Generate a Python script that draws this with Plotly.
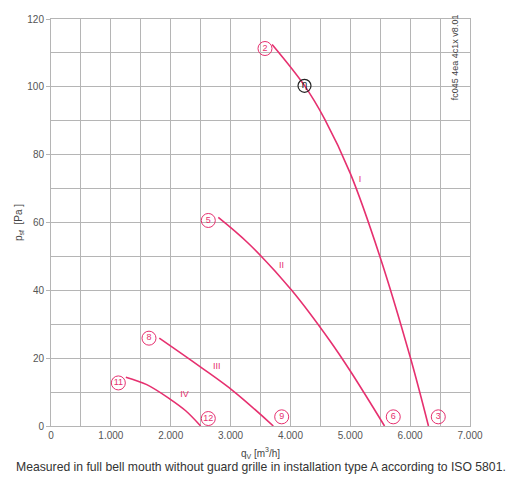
import plotly.graph_objects as go

# fan curves (qv in m3/h, psf in Pa)
q_I = [3694, 4230, 4572, 5000, 5489, 6000, 6306]
p_I = [112.5, 100.5, 90.5, 74.5, 50.3, 20.4, 0]

q_II = [2795, 3300, 4021, 4656, 5000, 5572]
p_II = [61.5, 53.8, 40, 25.2, 16.2, 0]

q_III = [1809, 2489, 3046, 3714]
p_III = [25.9, 17.5, 10.3, 0]

q_IV = [1250, 1600, 2000, 2250, 2500]
p_IV = [14.4, 12.2, 7.8, 4.5, 0]

# numbered operating points
pt_labels = ["2", "5", "8", "11", "3", "6", "9", "12"]
pt_q = [3575, 2628, 1637, 1125, 6470, 5718, 3854, 2628]
pt_p = [111.3, 60.6, 25.9, 12.7, 2.7, 2.7, 2.7, 2.2]

# curve names
curve_names = ["I", "II", "III", "IV"]
name_q = [5162, 3853, 2768, 2230]
name_p = [72.6, 47.2, 17.5, 9.3]

eta_q, eta_p = 4235, 100.3

x_ticks = [0, 1000, 2000, 3000, 4000, 5000, 6000, 7000]
x_labels = ["0", "1.000", "2.000", "3.000", "4.000", "5.000", "6.000", "7.000"]

pink = "#e6306f"
grid = "#b5b5b5"

fig = go.Figure()
for q, p in [(q_I, p_I), (q_II, p_II), (q_III, p_III), (q_IV, p_IV)]:
    fig.add_trace(go.Scatter(x=q, y=p, mode="lines", line=dict(color=pink, width=1.6, shape="spline"),
                             hoverinfo="skip"))

fig.add_trace(go.Scatter(x=pt_q, y=pt_p, mode="markers+text", text=pt_labels,
                         textposition="middle center", textfont=dict(color=pink, size=9),
                         marker=dict(symbol="circle-open", size=14, color=pink, line=dict(width=1))))
fig.add_trace(go.Scatter(x=[eta_q], y=[eta_p], mode="markers+text", text=["η"],
                         textposition="middle center", textfont=dict(color="#222", size=10),
                         marker=dict(symbol="circle-open", size=13, color="#222", line=dict(width=1.2))))
fig.add_trace(go.Scatter(x=name_q, y=name_p, mode="text", text=curve_names,
                         textfont=dict(color=pink, size=9, family="Arial")))

# the page body adds an 8px offset, so the figure is a bit smaller than the window
fig.update_layout(
    width=519, height=488, showlegend=False,
    plot_bgcolor="white", paper_bgcolor="white",
    margin=dict(l=43, r=57, t=5, b=70),
    font=dict(family="Arial", color="#555", size=10),
    xaxis=dict(range=[0, 7000], tickvals=x_ticks, ticktext=x_labels,
               showgrid=True, gridcolor=grid, gridwidth=1,
               minor=dict(dtick=500, showgrid=True, gridcolor=grid, gridwidth=1),
               showline=True, linecolor=grid, mirror=True, zeroline=False,
               ticks="", tickfont=dict(size=10, color="#555"),
               title=dict(text="q<sub>V</sub> [m<sup>3</sup>/h]", font=dict(size=10, color="#444"), standoff=9)),
    yaxis=dict(range=[0, 120], dtick=20, showgrid=True, gridcolor=grid, gridwidth=1,
               minor=dict(dtick=10, showgrid=True, gridcolor=grid, gridwidth=1),
               showline=True, linecolor=grid, mirror=True, zeroline=False,
               ticks="outside", ticklen=4, tickcolor=grid, tickfont=dict(size=10, color="#555"),
               ticklabeloverflow="allow",
               title=dict(text="p<sub>sf</sub>  [Pa ]", font=dict(size=10, color="#444"), standoff=2)),
)

fig.add_annotation(text="fc045 4ea 4c1x v8.01", textangle=-90, xref="paper", yref="paper",
                   x=0.964, y=0.906, xanchor="center", yanchor="middle", showarrow=False,
                   font=dict(size=9, color="#444"))
fig.add_annotation(text="Measured in full bell mouth without guard grille in installation type A according to ISO 5801.",
                   xref="paper", yref="paper", x=0.5, y=-0.1, xanchor="center", yanchor="middle",
                   showarrow=False, font=dict(size=12.2, color="#333", family="Arial"))

fig.write_html("out.html")
